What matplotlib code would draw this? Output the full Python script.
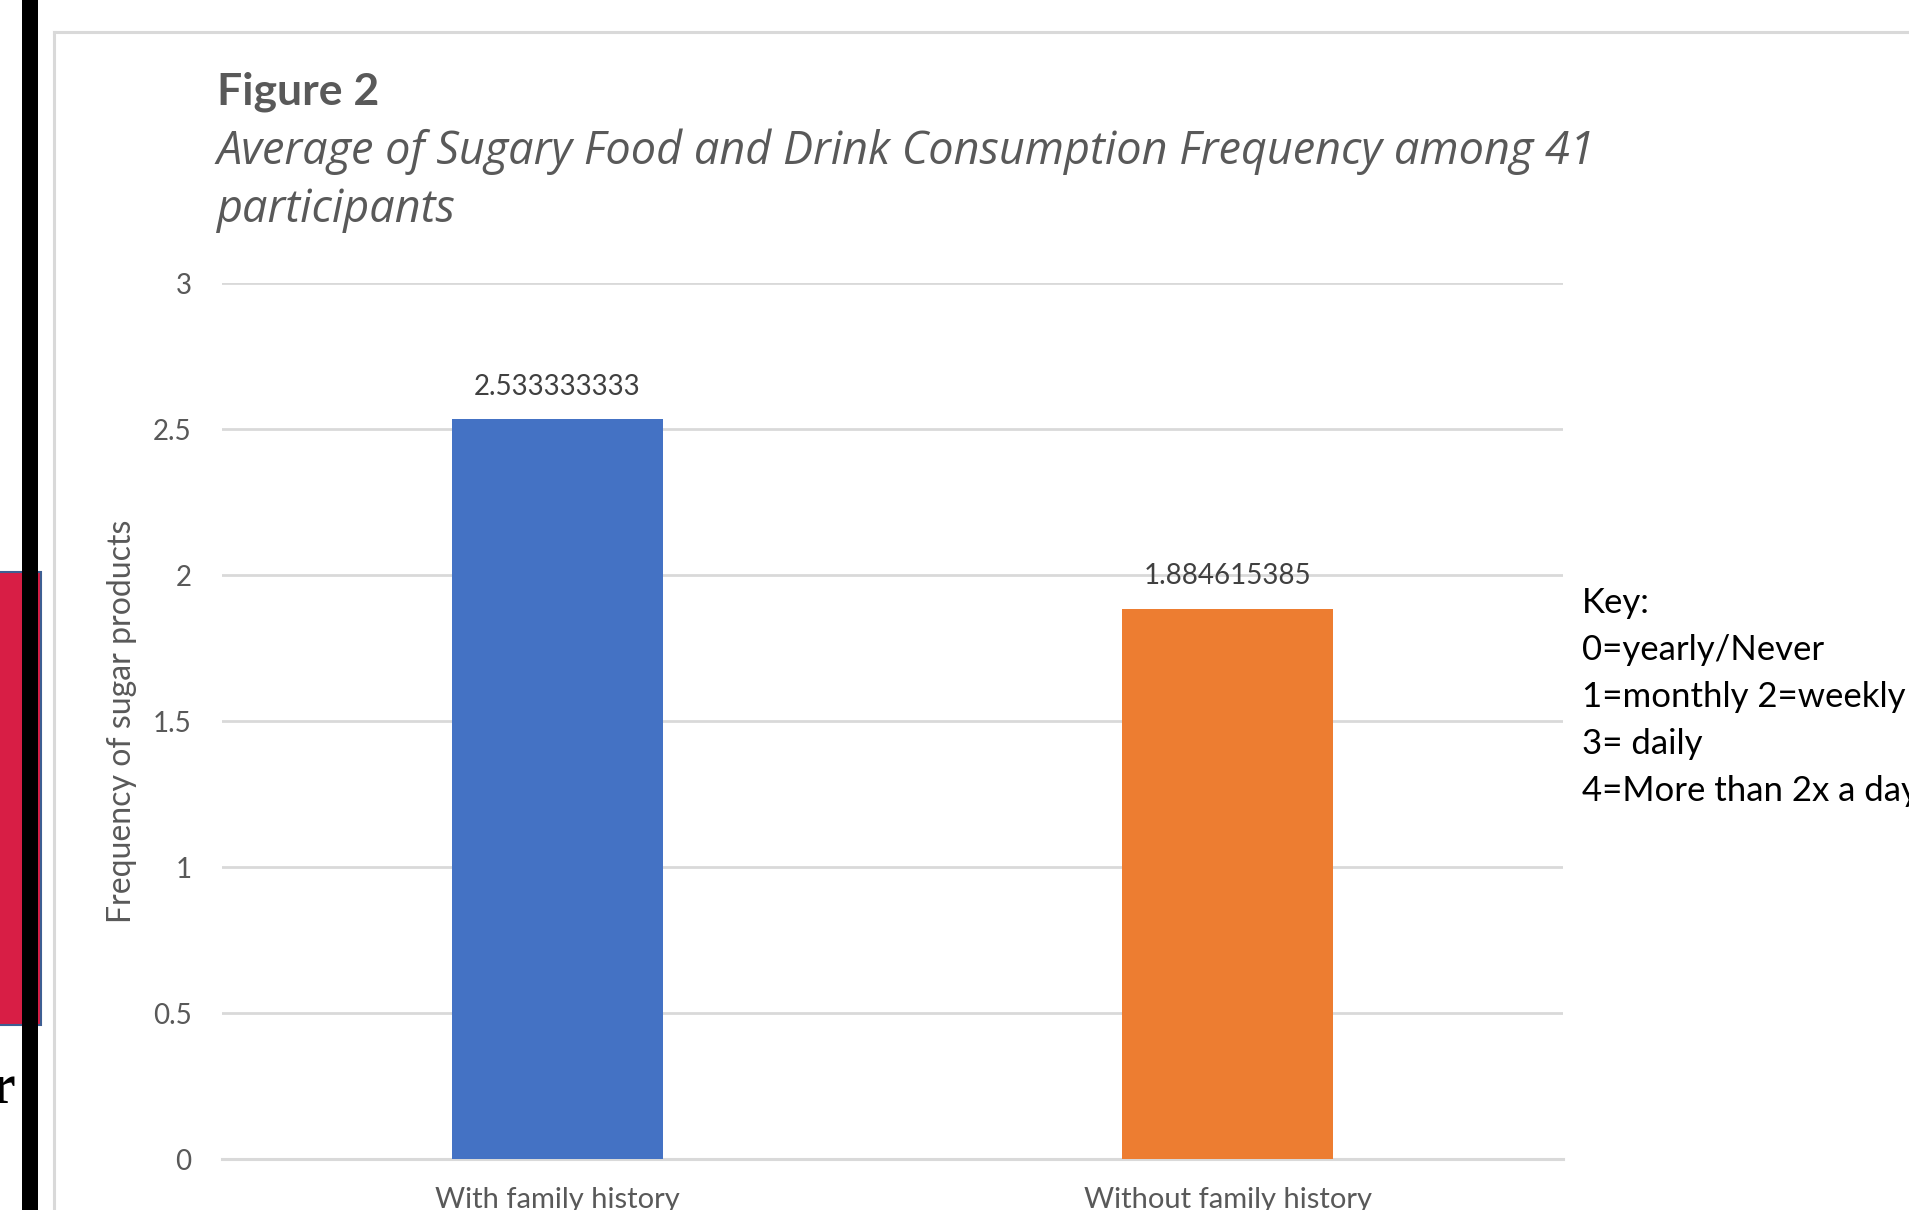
import numpy as np
import matplotlib.pyplot as plt
from matplotlib.patches import Rectangle
from matplotlib.lines import Line2D

# datos del grafico
categorias = ['With family history', 'Without family history']
promedios = [2.533333333, 1.884615385]
colores = ['#4472C4', '#ED7D31']
yticks = [0, 0.5, 1, 1.5, 2, 2.5, 3]
clave = ['Key:', '0=yearly/Never', '1=monthly 2=weekly', '3= daily', '4=More than 2x a day']

W, H = 1909, 1210
plt.rcParams['font.family'] = ['Lato', 'DejaVu Sans']
gris = '#595959'

fig = plt.figure(figsize=(W / 100, H / 100), dpi=100)
fig.patch.set_facecolor('white')

def fx(px):
    return px / W

def fy(py):
    return 1 - py / H

# borde del grafico (captura de pantalla)
fig.add_artist(Line2D([fx(54), fx(54)], [fy(32), 0], color='#D9D9D9', lw=2.2))
fig.add_artist(Line2D([fx(54), 1], [fy(32), fy(32)], color='#D9D9D9', lw=2.2))
# recuadro rojo, texto cortado y barra negra a la izquierda
fig.add_artist(Rectangle((-0.01, fy(1025)), fx(41) + 0.01, (1025 - 572) / H,
                         facecolor='#D81E45', edgecolor='#3E5F93', lw=1.5))
fig.text(fx(15), fy(1103), 'r', fontsize=40, fontweight='bold', color='black',
         family='Liberation Serif', ha='right', va='baseline')
fig.add_artist(Rectangle((fx(22), 0), fx(16), 1, facecolor='black', edgecolor='none'))

ax = fig.add_axes([fx(222), fy(1159), fx(1563 - 222), (1159 - 283) / H])
x = np.arange(len(categorias))
ax.bar(x, promedios, width=0.315, color=colores, zorder=3)
ax.set_xlim(-0.5, 1.5)
ax.set_ylim(0, 3)
ax.set_yticks(yticks)
ax.set_yticklabels([f'{v:g}' for v in yticks])
ax.set_xticks(x)
ax.set_xticklabels(categorias)
ax.tick_params(axis='y', length=0, pad=22, labelsize=20, labelcolor=gris)
ax.tick_params(axis='x', length=0, pad=20, labelsize=21, labelcolor=gris)
for s in ['top', 'right', 'left']:
    ax.spines[s].set_visible(False)
ax.spines['bottom'].set_color('#D9D9D9')
ax.spines['bottom'].set_linewidth(2.2)
ax.grid(axis='y', color='#D9D9D9', lw=2.0, zorder=0)
ax.set_axisbelow(True)

for xi, v in zip(x, promedios):
    ax.annotate(f'{v:.9f}', (xi, v), xytext=(0, 14), textcoords='offset points',
                ha='center', va='bottom', fontsize=20, color='#404040')

fig.text(fx(122), fy(721), 'Frequency of sugar products', rotation=90,
         ha='center', va='center', fontsize=23, color=gris)

fig.text(fx(217), fy(105), 'Figure 2', fontsize=32, fontweight='bold', color=gris,
         va='baseline')
fig.text(fx(217), fy(164), 'Average of Sugary Food and Drink Consumption Frequency among 41',
         fontsize=32.4, fontstyle='italic', color=gris, va='baseline', family='Open Sans')
fig.text(fx(217), fy(222), 'participants', fontsize=32.4, fontstyle='italic', color=gris,
         va='baseline', family='Open Sans')

for i, linea in enumerate(clave):
    fig.text(fx(1582), fy(613 + 47 * i), linea, fontsize=25, color='black', va='baseline')

fig.savefig('out.png', dpi=100)
